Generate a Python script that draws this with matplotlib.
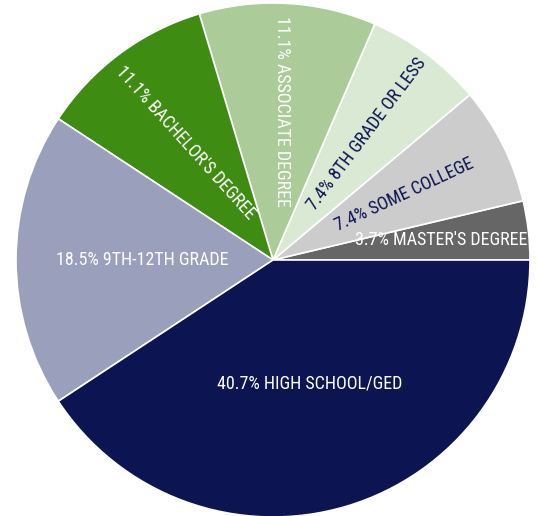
import matplotlib
matplotlib.use("Agg")
import matplotlib.pyplot as plt
from matplotlib import font_manager
import numpy as np

categories = ["Master's Degree", "Some College", "8th Grade or Less",
              "Associate Degree", "Bachelor's Degree", "9th-12th Grade",
              "High School/GED"]
percents = [3.7, 7.4, 7.4, 11.1, 11.1, 18.5, 40.7]
colors = ["#666666", "#cccccc", "#d9e9d3", "#abcb98", "#3e8c12", "#9a9fbb", "#0d1452"]
text_colors = ["white", "#0d1452", "#0d1452", "white", "white", "white", "white"]
label_rot = [0, 25, 53, -90, -48, 0, 0]
label_r = [0.66, 0.57, 0.61, 0.58, 0.57, 0.51, 0.50]

# pick a condensed font if available
names = {f.name for f in font_manager.fontManager.ttflist}
family = "DejaVu Sans"
stretch = "normal"
for cand in ["Roboto Condensed", "Liberation Sans Narrow", "Open Sans Condensed", "DejaVu Sans Condensed"]:
    if cand in names:
        family = cand
        break
else:
    stretch = "condensed"

fig = plt.figure(figsize=(5.38, 5.16), dpi=100)
ax = fig.add_axes([0, 0, 1, 1])

cx, cy, R = 273, 256, 257
wedges, _ = ax.pie(percents, colors=colors, startangle=0, counterclock=True,
                   center=(cx, cy), radius=R, frame=True,
                   wedgeprops=dict(edgecolor="white", linewidth=1.2))
ax.set_xlim(0, 538)
ax.set_ylim(0, 516)
ax.axis("off")

for w, cat, p, tc, rot, rf in zip(wedges, categories, percents, text_colors, label_rot, label_r):
    mid = np.deg2rad((w.theta1 + w.theta2) / 2)
    x = cx + rf * R * np.cos(mid)
    y = cy + rf * R * np.sin(mid)
    ax.text(x, y, f"{p}% {cat.upper()}", color=tc, rotation=rot,
            rotation_mode="anchor", ha="center", va="center",
            fontsize=13, family=family, fontstretch=stretch)

fig.savefig("out.png", dpi=100)
